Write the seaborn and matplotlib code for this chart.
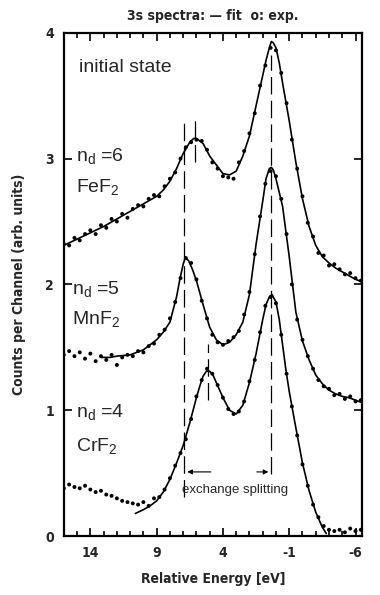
import numpy as np
import pandas as pd
import matplotlib
matplotlib.use("Agg")
import matplotlib.pyplot as plt
import seaborn as sns
from matplotlib.ticker import MultipleLocator, FixedLocator
from matplotlib.font_manager import FontProperties

# ---- fitted curves (energy in eV, counts in arb. units) ----
fe_fit_e = [16.0, 15.0, 14.0, 13.0, 12.0, 11.0, 10.0, 9.0, 8.5, 8.0, 7.5, 7.0, 6.5, 6.2, 6.0,
            5.5, 5.0, 4.5, 4.0, 3.5, 3.0, 2.5, 2.0, 1.5, 1.0, 0.75, 0.5, 0.35, 0.2, 0.0,
            -0.25, -0.5, -1.0, -1.5, -2.0, -2.5, -3.0, -3.5, -4.0, -4.5, -5.0, -5.5, -6.0, -6.5]
fe_fit_v = [2.31, 2.36, 2.41, 2.46, 2.52, 2.58, 2.64, 2.70, 2.75, 2.82, 2.92, 3.04, 3.13, 3.16, 3.16,
            3.12, 3.02, 2.95, 2.88, 2.87, 2.90, 3.02, 3.18, 3.42, 3.66, 3.78, 3.88, 3.93, 3.92, 3.88,
            3.76, 3.60, 3.30, 2.97, 2.68, 2.46, 2.31, 2.22, 2.17, 2.13, 2.10, 2.07, 2.04, 2.02]

mn_fit_e = [13.2, 12.5, 12.0, 11.0, 10.0, 9.5, 9.0, 8.5, 8.0, 7.5, 7.25, 7.0, 6.85, 6.6, 6.3,
            6.0, 5.5, 5.0, 4.5, 4.0, 3.5, 3.0, 2.5, 2.0, 1.5, 1.0, 0.75, 0.5, 0.35, 0.2, 0.0,
            -0.5, -1.0, -1.5, -2.0, -2.5, -3.0, -3.5, -4.0, -4.5, -5.0, -5.5, -6.0, -6.5]
mn_fit_v = [1.42, 1.42, 1.43, 1.44, 1.48, 1.52, 1.56, 1.62, 1.70, 1.90, 2.04, 2.16, 2.21, 2.19, 2.12,
            2.03, 1.84, 1.66, 1.56, 1.52, 1.54, 1.60, 1.70, 1.92, 2.32, 2.66, 2.84, 2.92, 2.93, 2.91, 2.84,
            2.62, 2.22, 1.78, 1.55, 1.40, 1.28, 1.21, 1.16, 1.13, 1.11, 1.10, 1.08, 1.06]

cr_fit_e = [10.6, 10.0, 9.5, 9.0, 8.5, 8.0, 7.5, 7.0, 6.5, 6.0, 5.75, 5.5, 5.25, 5.0, 4.75,
            4.5, 4.0, 3.5, 3.0, 2.5, 2.0, 1.5, 1.0, 0.75, 0.5, 0.3, 0.0, -0.25, -0.5, -0.75,
            -1.0, -1.5, -2.0, -2.5, -3.0, -3.5, -3.8]
cr_fit_v = [0.18, 0.21, 0.24, 0.28, 0.35, 0.45, 0.58, 0.72, 0.90, 1.10, 1.19, 1.27, 1.31, 1.31, 1.28,
            1.22, 1.10, 1.00, 0.97, 1.04, 1.22, 1.45, 1.72, 1.84, 1.90, 1.92, 1.86, 1.72, 1.52, 1.32,
            1.15, 0.86, 0.58, 0.36, 0.19, 0.07, 0.02]

# ---- experimental points ----
exp_e = [16.0, 15.6, 15.2, 14.8, 14.4, 14.0, 13.6, 13.2, 12.8, 12.4, 12.0, 11.6, 11.2, 10.8, 10.4,
         10.0, 9.6, 9.2, 8.8, 8.4, 8.0, 7.6, 7.2, 6.8, 6.4, 6.0, 5.6, 5.2, 4.8, 4.4,
         4.0, 3.6, 3.2, 2.8, 2.4, 2.0, 1.6, 1.2, 0.8, 0.4, 0.0, -0.4, -0.8, -1.2, -1.6,
         -2.0, -2.4, -2.8, -3.2, -3.6, -4.0, -4.4, -4.8, -5.2, -5.6, -6.0, -6.4]
fe_exp = [2.32, 2.31, 2.37, 2.35, 2.40, 2.43, 2.40, 2.47, 2.45, 2.52, 2.50, 2.56, 2.53, 2.60, 2.63,
          2.62, 2.68, 2.71, 2.70, 2.78, 2.84, 2.89, 3.00, 3.09, 3.13, 3.15, 3.14, 3.07, 2.97, 2.92,
          2.86, 2.85, 2.84, 2.97, 3.06, 3.20, 3.36, 3.58, 3.74, 3.88, 3.86, 3.68, 3.44, 3.15, 2.92,
          2.70, 2.49, 2.38, 2.25, 2.23, 2.15, 2.16, 2.12, 2.08, 2.09, 2.05, 2.03]
mn_exp = [1.44, 1.47, 1.43, 1.46, 1.41, 1.45, 1.39, 1.43, 1.40, 1.44, 1.36, 1.42, 1.44, 1.43, 1.47,
          1.46, 1.51, 1.53, 1.60, 1.64, 1.73, 1.86, 2.05, 2.21, 2.17, 2.04, 1.87, 1.73, 1.60, 1.54,
          1.52, 1.55, 1.58, 1.63, 1.76, 1.94, 2.24, 2.54, 2.80, 2.90, 2.86, 2.68, 2.40, 2.00, 1.72,
          1.56, 1.43, 1.33, 1.24, 1.19, 1.17, 1.12, 1.13, 1.09, 1.11, 1.07, 1.08]
cr_exp = [0.38, 0.41, 0.39, 0.38, 0.40, 0.37, 0.35, 0.36, 0.33, 0.32, 0.30, 0.28, 0.27, 0.26, 0.25,
          0.27, 0.24, 0.30, 0.31, 0.37, 0.46, 0.56, 0.66, 0.77, 0.93, 1.11, 1.24, 1.33, 1.29, 1.20,
          1.10, 1.01, 0.97, 0.99, 1.07, 1.23, 1.40, 1.62, 1.83, 1.90, 1.85, 1.60, 1.29, 1.03, 0.80,
          0.57, 0.40, 0.25, 0.15, 0.08, 0.05, 0.04, 0.05, 0.03, 0.06, 0.04, 0.05]

# ---- peak markers: (energy, y from, y to) ----
peak_marks = [(6.9, 0.31, 3.32), (6.1, 2.97, 3.31), (5.1, 1.08, 1.53), (0.36, 0.49, 3.82)]

labels_nd = ["n$_\\mathregular{d}$ =6", "n$_\\mathregular{d}$ =5", "n$_\\mathregular{d}$ =4"]
labels_cmp = ["FeF$_\\mathregular{2}$", "MnF$_\\mathregular{2}$", "CrF$_\\mathregular{2}$"]

sns.set_style("ticks")
plt.rcParams['font.family'] = ['Liberation Sans', 'DejaVu Sans']
plt.rcParams['axes.unicode_minus'] = False
cond = FontProperties(family='DejaVu Sans', stretch='condensed', weight='bold')

fig = plt.figure(figsize=(3.8, 5.95), dpi=100)
ax = fig.add_axes([0.168, 0.099, 0.785, 0.846])

for fe, fv in [(fe_fit_e, fe_fit_v), (mn_fit_e, mn_fit_v), (cr_fit_e, cr_fit_v)]:
    sns.lineplot(x=fe, y=fv, ax=ax, color='black', lw=1.2, estimator=None, sort=False)
for ev in [fe_exp, mn_exp, cr_exp]:
    sns.scatterplot(x=exp_e, y=ev, ax=ax, color='black', s=8, edgecolor='none', linewidth=0)

for e, y0, y1 in peak_marks:
    ax.plot([e, e], [y0, y1], color='black', lw=0.9, linestyle=(0, (14, 5)))

ax.annotate('', xy=(6.9, 0.51), xytext=(4.7, 0.51),
            arrowprops=dict(arrowstyle='-|>', color='black', lw=0.8, mutation_scale=7))
ax.annotate('', xy=(0.36, 0.51), xytext=(1.65, 0.51),
            arrowprops=dict(arrowstyle='-|>', color='black', lw=0.8, mutation_scale=7))
ax.text(3.1, 0.37, 'exchange splitting', fontsize=9.5, ha='center', va='center')

ax.text(14.85, 3.72, 'initial state', fontsize=14, ha='left', va='center')
for lab, cmp_, x, yn, yc in zip(labels_nd, labels_cmp, [15.05, 15.35, 15.1],
                                [3.01, 1.96, 0.98], [2.77, 1.72, 0.71]):
    ax.text(x, yn, lab, fontsize=14, ha='left', va='center')
    ax.text(x, yc, cmp_, fontsize=14, ha='left', va='center')

ax.set_xlim(16, -6.5)
ax.set_ylim(0, 4)
ax.xaxis.set_major_locator(FixedLocator([14, 9, 4, -1, -6]))
ax.xaxis.set_minor_locator(MultipleLocator(1))
ax.yaxis.set_major_locator(MultipleLocator(1))
ax.tick_params(which='both', direction='in', top=True, right=True, width=1.2, color='black')
ax.tick_params(which='major', length=6, pad=7)
ax.tick_params(which='minor', length=3.5)
for sp in ax.spines.values():
    sp.set_linewidth(1.6)
    sp.set_color('black')

for t in ax.get_xticklabels() + ax.get_yticklabels():
    t.set_fontproperties(cond)
    t.set_fontsize(10)
ax.set_xlabel('Relative Energy [eV]', fontproperties=cond, fontsize=10, labelpad=9)
ax.set_ylabel('Counts per Channel (arb. units)', fontproperties=cond, fontsize=10, labelpad=14)
ax.set_title('3s spectra: \u2014 fit  o: exp.', fontproperties=cond, fontsize=10, pad=9)

fig.savefig('out.png', dpi=100)
